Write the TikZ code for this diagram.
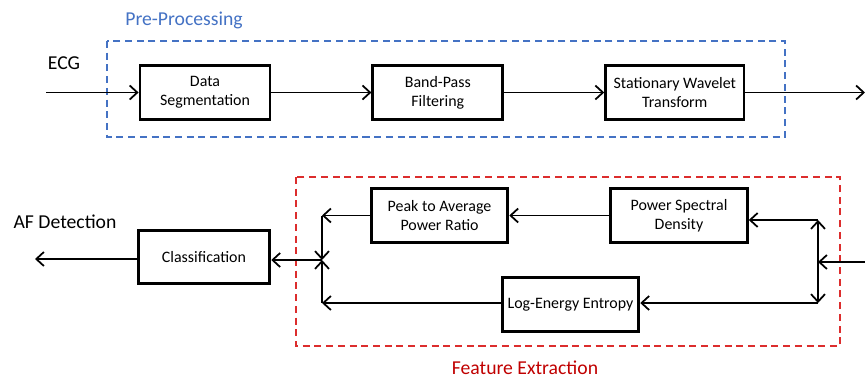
\documentclass[tikz,border=0pt]{standalone}
\usepackage{fontspec}
\setmainfont{Carlito}
\usetikzlibrary{arrows.meta, positioning}
\definecolor{preblue}{RGB}{68,114,196}
\definecolor{featred}{RGB}{192,0,0}
\definecolor{dashred}{RGB}{220,45,45}

\begin{document}
\begin{tikzpicture}[x=0.03cm, y=-0.03cm,
    block/.style={rectangle, draw=black, line width=2.4pt, minimum width=3.9cm, minimum height=1.6cm,
                  inner xsep=1pt, align=center, font=\fontsize{13.6}{16}\selectfont},
    lbl/.style={font=\fontsize{16.8}{19}\selectfont},
    arrow/.style={line width=1.5pt, -{Straight Barb[length=6.5pt,width=12pt,line width=1.5pt]}},
    group/.style={line width=1pt, dash pattern=on 6pt off 4pt}]
\useasboundingbox (0,0) rectangle (865,378);

% Pre-processing chain
\node (seg) [block] at (205,92.5) {Data\\Segmentation};
\node (bpf) [block, right=3cm of seg] {Band-Pass\\Filtering};
\node (swt) [block, right=3cm of bpf, minimum width=4.15cm] {Stationary Wavelet\\Transform};

% Feature extraction
\node (psd) [block, minimum width=4.1cm] at (679,215.5) {Power Spectral\\Density};
\node (par) [block, minimum width=4.1cm, left=3cm of psd] {Peak to Average\\Power Ratio};
\node (lee) [block, minimum width=4.1cm] at (570.5,304.5) {Log-Energy Entropy};

% Classifier
\node (cls) [block, minimum width=3.95cm] at (204,257) {Classification};

% Group frames and labels
\draw [group, preblue] (107,41) rectangle (785,137);
\draw [group, dashred] (296,177) rectangle (840,346);
\node (pre)  [lbl, text=preblue] at (184,20)  {Pre-Processing};
\node (feat) [lbl, text=featred, inner sep=0pt] at (525,368) {Feature Extraction};
\node (ecg)  [lbl] at (64,63)   {ECG};
\node (af)   [lbl] at (65,222)  {AF Detection};

% Junction points
\coordinate (ecgin) at (46,92.5);
\coordinate (out)   at (865,92.5);
\coordinate (fin)   at (865,262);
\coordinate (jr)    at (818,262);
\coordinate (jrt)   at (818,220);
\coordinate (jrb)   at (818,303);
\coordinate (jl)    at (322,260);
\coordinate (jlt)   at (322,215.5);
\coordinate (jlb)   at (322,303);
\coordinate (afout) at (35,259);

% Arrows -- top row
\draw [arrow] (ecgin) -- (seg);
\draw [arrow] (seg) -- (bpf);
\draw [arrow] (bpf) -- (swt);
\draw [arrow] (swt) -- (out);
% Arrows -- into feature blocks
\draw [arrow] (fin) -- (jr);
\draw [arrow] (jr) -- (jrt);
\draw [arrow] (jrt) -- (psd.east |- jrt);
\draw [arrow] (jr) -- (jrb);
\draw [arrow] (jrb) -- (lee.east |- jrb);
\draw [arrow] (psd) -- (par);
% Arrows -- features to classifier
\draw [arrow] (par.west) -- (jlt);
\draw [arrow] (jlt) -- (jl);
\draw [arrow] (lee.west |- jlb) -- (jlb);
\draw [arrow] (jlb) -- (jl);
\draw [arrow] (jl) -- (cls.east |- jl);
\draw [arrow] (cls.west |- afout) -- (afout);
\end{tikzpicture}
\end{document}
